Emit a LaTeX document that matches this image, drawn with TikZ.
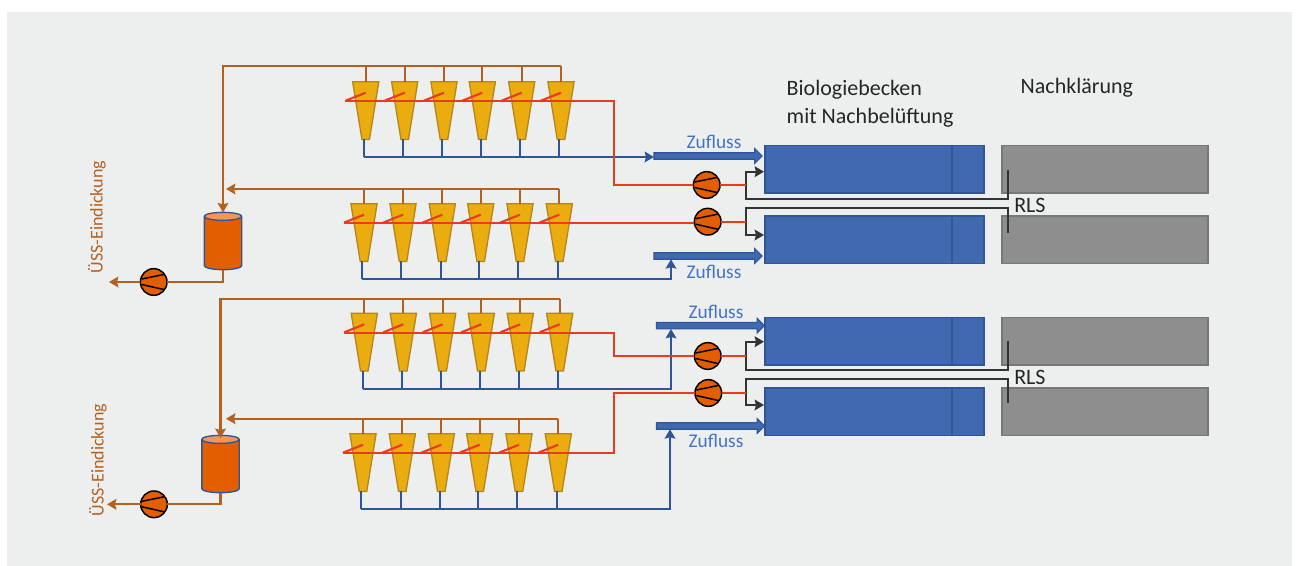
\documentclass[tikz,border=0pt]{standalone}
\usepackage{fontspec}
\setmainfont{Carlito}
\usetikzlibrary{shapes.geometric,shapes.arrows,arrows.meta}
\definecolor{bgcol}{HTML}{EDEFEF}
\definecolor{goldcol}{HTML}{EBAC10}
\definecolor{golddark}{HTML}{B4871E}
\definecolor{bluecol}{HTML}{4169AF}
\definecolor{bluedark}{HTML}{2F5597}
\definecolor{greycol}{HTML}{8D8E8D}
\definecolor{greydark}{HTML}{767776}
\definecolor{browncol}{HTML}{B4601E}
\definecolor{redcol}{HTML}{EC3A1E}
\definecolor{orangecol}{HTML}{E35E00}
\definecolor{orangelight}{HTML}{F2965A}
\definecolor{textblue}{HTML}{4472C4}
\newcommand{\cyclone}[4]{
    \node[cyclonebox,anchor=north] (#1) at (#2,#3) {};
    \coordinate (#1b) at ([xshift=-1.2pt]#1.south);
    \draw[sludge] (#1.north) -- (#1.north |- h#4);
    \draw[water] (#1b) -- (#1b |- b#4);
    \draw[feed] ([shift={(-20,19)}]#1.north) -- ++(20,-8);
}
\newcommand{\pump}[3]{
    \node[pumpbox] (#1) at (#2,#3) {};
    \draw[pumpline] ([shift={(-12,-3)}]#1.center) -- ++(22,-4.5);
    \draw[pumpline] ([shift={(-12,2.5)}]#1.center) -- ++(22,5);
}
\begin{document}
\begin{tikzpicture}[x=0.75pt,y=-0.75pt,
        arrow/.style = {-{Stealth[length=7pt,width=8pt,inset=1pt]}},
        sludge/.style = {browncol,line width=1.6pt},
        water/.style = {bluedark,line width=1.6pt},
        feed/.style = {redcol,line width=1.6pt},
        rls/.style = {black!80,line width=1.4pt},
        pumpline/.style = {black,line width=1.1pt},
        cyclonebox/.style = {trapezium,shape border rotate=180,
            trapezium left angle=80.8,trapezium right angle=80.8,
            minimum height=43.3pt,inner xsep=0.13pt,inner ysep=1pt,outer sep=0pt,
            fill=goldcol,draw=golddark,line width=1pt},
        pumpbox/.style = {circle,minimum size=20pt,inner sep=0pt,outer sep=0pt,
            fill=orangecol,draw=black,line width=1.1pt},
        tankbox/.style = {cylinder,shape border rotate=90,aspect=0.5,
            minimum width=28pt,minimum height=43pt,inner sep=6pt,outer sep=0pt,
            cylinder uses custom fill,cylinder body fill=orangecol,cylinder end fill=orangelight,
            draw=bluedark,line width=1pt},
        bio/.style = {rectangle,anchor=north west,minimum width=164.25pt,minimum height=35.5pt,
            inner sep=0pt,outer sep=0pt,fill=bluecol,draw=bluedark,line width=1pt},
        clarifier/.style = {rectangle,anchor=north west,minimum width=154.5pt,minimum height=35.5pt,
            inner sep=0pt,outer sep=0pt,fill=greycol,draw=greydark,line width=1pt},
        inflow/.style = {single arrow,anchor=west,minimum height=81pt,minimum width=11pt,
            single arrow head extend=3pt,single arrow head indent=0pt,inner sep=2pt,outer sep=0pt,
            fill=bluecol,draw=bluedark,line width=0.8pt},
        zulabel/.style = {textblue,font=\fontsize{14.5}{16}\selectfont},
        usslabel/.style = {browncol,rotate=90,font=\fontsize{13.5}{16}\selectfont},
        headlabel/.style = {black!85,anchor=west,font=\fontsize{16.5}{21}\selectfont}]
    \useasboundingbox (0,0) rectangle (1296,566);
    \fill[bgcol] (7,12) rectangle (1292,566);

    \coordinate (h1) at (222,66);
    \coordinate (h2) at (226,189);
    \coordinate (h3) at (220.5,299);
    \coordinate (h4) at (226,418.7);
    \coordinate (b1) at (654,157);
    \coordinate (b2) at (671,278.7);
    \coordinate (b3) at (671,388.7);
    \coordinate (b4) at (670,509);
    \coordinate (r1) at (345,100.7);
    \coordinate (r2) at (344,223);
    \coordinate (r3) at (344,332.7);
    \coordinate (r4) at (343,453.3);
    \coordinate (e) at (613.7,0);
    \coordinate (w) at (952,0);

    \node[bio] (bio1) at (765,145.7) {};
    \node[bio] (bio2) at (765,216) {};
    \node[bio] (bio3) at (765,317.7) {};
    \node[bio] (bio4) at (765,388) {};
    \draw[bluedark,line width=1pt] (w |- bio1.north) -- (w |- bio1.south);
    \draw[bluedark,line width=1pt] (w |- bio2.north) -- (w |- bio2.south);
    \draw[bluedark,line width=1pt] (w |- bio3.north) -- (w |- bio3.south);
    \draw[bluedark,line width=1pt] (w |- bio4.north) -- (w |- bio4.south);
    \node[clarifier] (kl1) at (1002,145.7) {};
    \node[clarifier] (kl2) at (1002,216) {};
    \node[clarifier] (kl3) at (1002,317.7) {};
    \node[clarifier] (kl4) at (1002,388) {};

    \node[inflow] (zf1) at (654,156) {};
    \node[inflow] (zf2) at (654,256) {};
    \node[inflow] (zf3) at (656.5,325.7) {};
    \node[inflow] (zf4) at (656.5,426) {};

    \cyclone{c11}{365.7}{81.7}{1}
    \cyclone{c12}{404.7}{81.7}{1}
    \cyclone{c13}{444}{81.7}{1}
    \cyclone{c14}{482.3}{81.7}{1}
    \cyclone{c15}{521.7}{81.7}{1}
    \cyclone{c16}{561}{81.7}{1}
    \cyclone{c21}{364}{203.7}{2}
    \cyclone{c22}{403}{203.7}{2}
    \cyclone{c23}{442.3}{203.7}{2}
    \cyclone{c24}{480.7}{203.7}{2}
    \cyclone{c25}{520}{203.7}{2}
    \cyclone{c26}{559.3}{203.7}{2}
    \cyclone{c31}{364.3}{313.3}{3}
    \cyclone{c32}{403.3}{313.3}{3}
    \cyclone{c33}{442.7}{313.3}{3}
    \cyclone{c34}{481.3}{313.3}{3}
    \cyclone{c35}{520.3}{313.3}{3}
    \cyclone{c36}{559.7}{313.3}{3}
    \cyclone{c41}{363}{433.7}{4}
    \cyclone{c42}{402.3}{433.7}{4}
    \cyclone{c43}{441.3}{433.7}{4}
    \cyclone{c44}{479.7}{433.7}{4}
    \cyclone{c45}{519}{433.7}{4}
    \cyclone{c46}{558.3}{433.7}{4}

    \pump{p1}{706.7}{185}
    \pump{p2}{707.7}{221.7}
    \pump{p3}{707.7}{356}
    \pump{p4}{708.3}{393}
    \pump{pa}{153.7}{282}
    \pump{pb}{154}{504.3}

    \node[tankbox] (tanka) at (223,245) {};
    \node[tankbox] (tankb) at (220.5,468) {};

    \draw[water,arrow] (c11b |- b1) -- (b1);
    \draw[water,arrow] (c21b |- b2) -- (b2) -- (zf2.south -| b2);
    \draw[water,arrow] (c31b |- b3) -- (b3) -- (zf3.south -| b3);
    \draw[water,arrow] (c41b |- b4) -- (b4) -- (zf4.south -| b4);

    \draw[sludge,arrow] (c16.north |- h1) -| (tanka.north);
    \draw[sludge,arrow] (c26.north |- h2) -- (h2);
    \draw[sludge,arrow] (c36.north |- h3) -| ([yshift=-2pt]tankb.north);
    \draw[sludge,arrow] (c46.north |- h4) -- (h4);

    \coordinate (outa) at (109,282);
    \coordinate (outb) at (107,504.3);
    \draw[sludge] (tanka.south) |- (pa.east);
    \draw[sludge] (tankb.south) |- (pb.east);
    \draw[sludge,arrow] (pa.west) -- (outa);
    \draw[sludge,arrow] (pb.west) -- (outb);

    \coordinate (s1) at (745.7,199.3);
    \coordinate (s2) at (745.7,208.3);
    \coordinate (s3) at (745.7,370);
    \coordinate (s4) at (745.7,378.7);
    \coordinate (g1) at (1008,170);
    \coordinate (g2) at (1008,232.7);
    \coordinate (g3) at (1008,340.7);
    \coordinate (g4) at (1008,403.3);
    \coordinate (t1) at (764,171.7);
    \coordinate (t2) at (764,235);
    \coordinate (t3) at (764,341.7);
    \coordinate (t4) at (764,405);
    \draw[rls,arrow] (g1) |- (s1) |- (t1);
    \draw[rls,arrow] (g2) |- (s2) |- (t2);
    \draw[rls,arrow] (g3) |- (s3) |- (t3);
    \draw[rls,arrow] (g4) |- (s4) |- (t4);

    \draw[feed] (r1) -| (e |- p1.west) -- (p1.west);
    \draw[feed,line width=1.2pt] (r2) -- (r2 -| p2.west);
    \draw[feed] (r3) -| (e |- p3.west) -- (p3.west);
    \draw[feed] (r4) -| (e |- p4.west) -- (p4.west);
    \draw[feed] (p1.east) -- (s1 |- p1.east);
    \draw[feed] (p2.east) -- (s2 |- p2.east);
    \draw[feed] (p3.east) -- (s3 |- p3.east);
    \draw[feed] (p4.east) -- (s4 |- p4.east);

    \node[zulabel] (zu1) at (714,142) {Zufluss};
    \node[zulabel] (zu2) at (714,272) {Zufluss};
    \node[zulabel] (zu3) at (716,312) {Zufluss};
    \node[zulabel] (zu4) at (716,441) {Zufluss};
    \node[usslabel] (uss1) at (97,217) {ÜSS-Eindickung};
    \node[usslabel] (uss2) at (98,460) {ÜSS-Eindickung};
    \node[headlabel,align=left] (biotext) at (782,104) {Biologiebecken\\mit Nachbelüftung};
    \node[headlabel] (kltext) at (1016,88) {Nachklärung};
    \node[headlabel,inner sep=0pt] (rls1) at (1014,205) {RLS};
    \node[headlabel,inner sep=0pt] (rls2) at (1014,377) {RLS};
\end{tikzpicture}
\end{document}
